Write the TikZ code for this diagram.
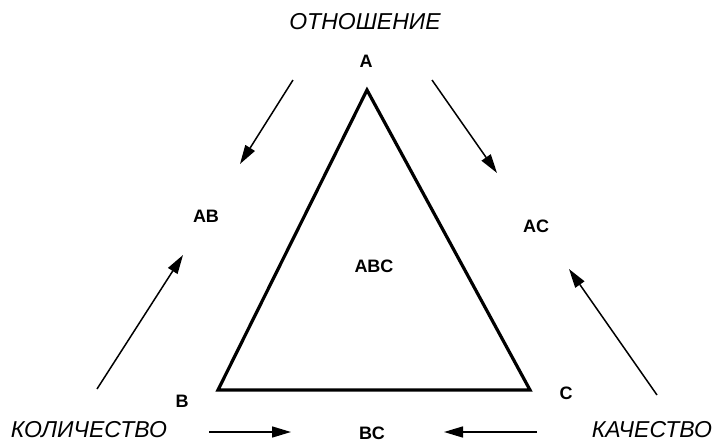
\documentclass[tikz,border=0pt]{standalone}
\usepackage{fontspec}
\setmainfont{Liberation Sans}
\usetikzlibrary{arrows.meta}
\begin{document}
\begin{tikzpicture}[x=1pt,y=-1pt,
  lbl/.style={font=\fontsize{18}{18}\selectfont\bfseries, inner sep=0pt},
  word/.style={font=\fontsize{23}{23}\selectfont\itshape, inner sep=0pt},
  arr/.style={line width=1.5pt, -{Triangle[length=19pt,width=11pt]}},
  tri/.style={line width=3.2pt, line join=miter}]
\useasboundingbox (0,0) rectangle (716,442);
% triangle corners
\coordinate (ta) at (367,90);
\coordinate (tb) at (218,390);
\coordinate (tc) at (530,390);
\draw[tri] (ta) -- (tb) -- (tc) -- cycle;
% labels
\node[word] (rel) at (365,22) {ОТНОШЕНИЕ};
\node[word] (qty) at (89,429.5) {КОЛИЧЕСТВО};
\node[word] (qual) at (652,429.5) {КАЧЕСТВО};
\node[lbl] (A) at (366,61) {A};
\node[lbl] (B) at (182,401) {B};
\node[lbl] (C) at (566,393) {C};
\node[lbl] (AB) at (206,216) {AB};
\node[lbl] (AC) at (536,226) {AC};
\node[lbl] (ABC) at (374,266) {ABC};
\node[lbl] (BC) at (372,433) {BC};
% arrow ends
\coordinate (a1s) at (293,80);  \coordinate (a1e) at (240,164);
\coordinate (a2s) at (432,80);  \coordinate (a2e) at (497,173);
\coordinate (a3s) at (97,389);  \coordinate (a3e) at (183,255);
\coordinate (a4s) at (657,395); \coordinate (a4e) at (569,269);
\coordinate (a5s) at (209,432); \coordinate (a5e) at (291,432);
\coordinate (a6s) at (537,432); \coordinate (a6e) at (444,432);
\draw[arr] (a1s) -- (a1e);
\draw[arr] (a2s) -- (a2e);
\draw[arr] (a3s) -- (a3e);
\draw[arr] (a4s) -- (a4e);
\draw[arr] (a5s) -- (a5e);
\draw[arr] (a6s) -- (a6e);
\end{tikzpicture}
\end{document}
